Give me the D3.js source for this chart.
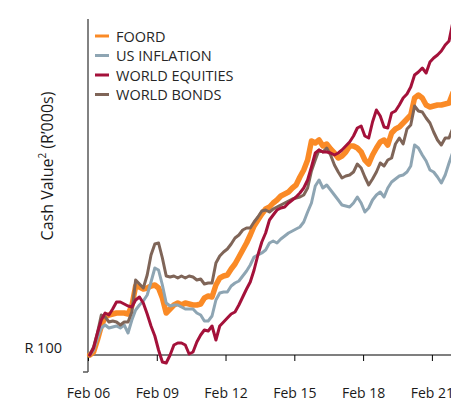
<!DOCTYPE html>
<html>
<head>
<meta charset="utf-8">
<script src="https://cdn.jsdelivr.net/npm/d3@7"></script>
<style>
  html, body { margin: 0; padding: 0; background: #fff; overflow: hidden; }
  svg { display: block; font-family: "Open Sans", sans-serif; }
</style>
</head>
<body>
<svg id="chart" width="451" height="403"></svg>
<script>
// ---- data (every two months from Feb 2006) ----
const seriesNames = ["FOORD", "US INFLATION", "WORLD EQUITIES", "WORLD BONDS"];
const seriesColors = ["#FA8A26", "#8EA5B3", "#A4113A", "#7F6558"];
const tickLabels = ["Feb 06", "Feb 09", "Feb 12", "Feb 15", "Feb 18", "Feb 21"];
const startLabel = "R 100";

const foord = [100,103,115,129,138,140,141,142,142,142,141,149,169,168,166,167,169,170,167,157,
  142,146,150,152,150,152,151,150,150,151,157,159,158,170,177,179,180,186,191,198,
  205,212,220,229,235,241,246,248,252,255,259,261,263,267,270,278,285,295,314,312,
  315,309,311,306,302,297,299,303,309,309,307,303,295,291,300,307,313,315,310,322,
  326,328,332,336,340,357,360,357,350,348,349,350,350,351,352,362];
const usInflation = [100,105,117,127,130,127,128,129,127,130,122,135,145,150,154,160,173,187,185,170,
  152,149,150,150,148,146,146,146,142,140,134,134,139,155,162,163,163,169,172,174,
  179,184,190,198,200,202,205,212,214,212,216,219,222,224,226,228,233,243,252,269,
  275,267,270,265,260,255,250,249,248,252,258,252,243,247,255,260,263,258,267,273,
  276,279,280,283,289,310,307,300,294,285,283,278,272,280,292,303];
const worldEquities = [100,107,122,135,142,140,146,153,153,151,149,148,155,158,152,141,129,119,105,93,
  92,100,110,112,112,110,101,103,113,120,125,124,129,115,129,133,137,141,143,150,
  158,166,173,185,200,213,222,235,240,245,247,248,252,255,258,262,267,275,288,302,
  305,303,303,302,300,302,305,309,313,319,327,329,319,317,333,345,339,328,327,342,
  344,350,357,361,368,380,383,387,382,393,397,400,404,410,414,433];
const worldBonds = [100,108,122,140,138,133,134,133,130,133,133,143,175,171,167,180,200,211,212,197,
  179,178,179,177,179,177,179,178,175,176,171,172,172,192,199,203,206,211,217,220,
  225,227,227,233,238,244,245,243,246,248,250,252,254,256,257,258,260,267,284,295,
  305,303,307,300,290,283,277,279,280,283,291,287,278,270,276,283,292,289,295,297,
  311,317,311,326,330,349,344,343,337,332,323,315,310,317,317,327];

const allSeries = [foord, usInflation, worldEquities, worldBonds];
const dates = d3.timeMonth.every(2).range(new Date(2006, 1, 1), new Date(2022, 0, 2)).slice(0, foord.length);

// ---- layout ----
const svg = d3.select("#chart");
const x = d3.scaleTime()
  .domain([new Date(2006, 1, 1), new Date(2021, 1, 1)])
  .range([88, 431.9]);
const y = d3.scaleLinear().domain([83, 436]).range([372, 19]);
const baseY = y(100);

svg.append("defs").append("clipPath").attr("id", "plotclip")
  .append("rect").attr("x", 86).attr("y", 0).attr("width", 366).attr("height", 380);

// y axis line
svg.append("line")
  .attr("x1", 88).attr("x2", 88).attr("y1", y.range()[1]).attr("y2", y.range()[0])
  .attr("stroke", "#595959").attr("stroke-width", 1.5);
svg.append("line")
  .attr("x1", 83).attr("x2", 88).attr("y1", y.range()[0]).attr("y2", y.range()[0])
  .attr("stroke", "#595959").attr("stroke-width", 1.5);

// baseline x axis at R 100
const xAxis = d3.axisBottom(x)
  .tickValues(tickLabels.map((t, i) => new Date(2006 + 3 * i, 1, 1)))
  .tickFormat((d, i) => tickLabels[i])
  .tickSize(6)
  .tickSizeOuter(0);
const gx = svg.append("g").attr("transform", `translate(0,${baseY})`).call(xAxis);
gx.select(".domain").remove();
gx.selectAll(".tick line").attr("stroke", "#000").attr("stroke-width", 1);
gx.selectAll(".tick text")
  .attr("y", 43).attr("dy", 0)
  .attr("fill", "#1a1a1a")
  .style("font-size", "14px")
  .style("font-family", "'Open Sans', sans-serif");
svg.append("line")
  .attr("x1", 88).attr("x2", 451).attr("y1", baseY).attr("y2", baseY)
  .attr("stroke", "#000").attr("stroke-width", 1.2);

// R 100 label
svg.append("text")
  .attr("x", 62).attr("y", baseY - 2)
  .attr("text-anchor", "end")
  .attr("fill", "#1a1a1a")
  .style("font-size", "14.5px")
  .text(startLabel);

// y title
const yt = svg.append("text")
  .attr("transform", "translate(53,166) rotate(-90)")
  .attr("text-anchor", "middle")
  .attr("fill", "#1a1a1a")
  .style("font-size", "16px");
yt.append("tspan").text("Cash Value");
yt.append("tspan").text("2").attr("dy", -7).style("font-size", "10px");
yt.append("tspan").text(" (R\u2019000s)").attr("dy", 7);

// lines
const line = d3.line().x((d, i) => x(dates[i])).y(d => y(d));
const widths = [5.5, 3, 3, 3];
const order = [0, 1, 3, 2];
const plot = svg.append("g").attr("clip-path", "url(#plotclip)");
order.forEach(i => {
  plot.append("path")
    .datum(allSeries[i])
    .attr("d", line)
    .attr("fill", "none")
    .attr("stroke", seriesColors[i])
    .attr("stroke-width", widths[i])
    .attr("stroke-linejoin", "round")
    .attr("stroke-linecap", "round");
});

// legend
const lg = svg.append("g");
seriesNames.forEach((n, i) => {
  const yy = 36 + i * 19.5;
  lg.append("line")
    .attr("x1", 95).attr("x2", 109).attr("y1", yy).attr("y2", yy)
    .attr("stroke", seriesColors[i]).attr("stroke-width", 3);
  lg.append("text")
    .attr("x", 116).attr("y", yy + 5.5)
    .attr("fill", "#262626")
    .style("font-size", "14.5px")
    .text(n);
});
</script>
</body>
</html>
